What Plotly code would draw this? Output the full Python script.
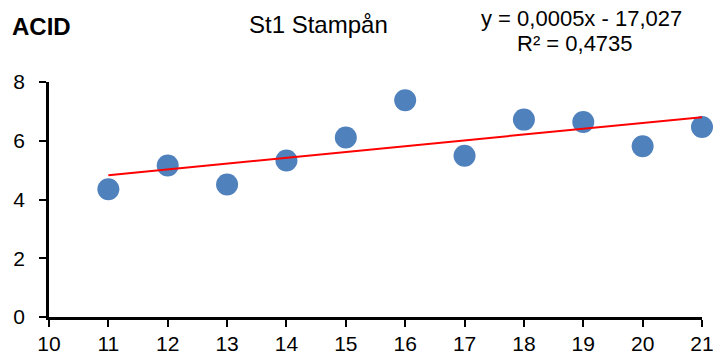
import numpy as np
import plotly.graph_objects as go

# Measurements for station St1 Stampån
years = [11, 12, 13, 14, 15, 16, 17, 18, 19, 20, 21]
acid = [4.35, 5.16, 4.51, 5.33, 6.11, 7.38, 5.49, 6.72, 6.64, 5.81, 6.47]

x_ticks = [10, 11, 12, 13, 14, 15, 16, 17, 18, 19, 20, 21]
y_ticks = [0, 2, 4, 6, 8]

chart_title = "ACID"
station = "St1 Stampån"
equation = "y = 0,0005x - 17,027"
r_squared = "R² = 0,4735"

# Linear trend line fitted through the measurements
slope, intercept = np.polyfit(years, acid, 1)
trend_x = [years[0], years[-1]]
trend_y = [slope * v + intercept for v in trend_x]

W, H = 713, 356
L, R, T, B = 49, 11, 82, 39
pw, ph = W - L - R, H - T - B


def px_x(p):
    return (p - L) / pw


def px_y(p):
    return (H - B - p) / ph


font_family = "Liberation Sans, Arial, sans-serif"

fig = go.Figure()
fig.add_trace(go.Scatter(
    x=years, y=acid, mode="markers",
    marker=dict(size=22, color="#4F81BD"),
    showlegend=False, cliponaxis=False,
))
fig.add_trace(go.Scatter(
    x=trend_x, y=trend_y, mode="lines",
    line=dict(color="#FF0000", width=2),
    showlegend=False,
))

axis_common = dict(
    showgrid=False, zeroline=False, showline=True, automargin=False,
    linecolor="black", linewidth=2.5,
    ticks="outside", ticklen=7, tickwidth=2, tickcolor="black",
    tickfont=dict(family=font_family, size=21, color="black"),
    ticklabeloverflow="allow",
)

fig.update_xaxes(range=[10, 21], tickvals=x_ticks, ticklabelstandoff=-1, **axis_common)
fig.update_yaxes(range=[0, 8], tickvals=y_ticks, ticklabelstandoff=10, **axis_common)

annotations = [
    dict(text=f"<b>{chart_title}</b>", x=px_x(10), y=px_y(26),
         xanchor="left", yanchor="middle", font=dict(size=24)),
    dict(text=station, x=px_x(318.5), y=px_y(24),
         xanchor="center", yanchor="middle", font=dict(size=24)),
    dict(text=equation, x=px_x(581), y=px_y(18),
         xanchor="center", yanchor="middle", font=dict(size=22)),
    dict(text=r_squared, x=px_x(575), y=px_y(43),
         xanchor="center", yanchor="middle", font=dict(size=22)),
]
for a in annotations:
    a.update(xref="paper", yref="paper", showarrow=False)
    a["font"].update(family=font_family, color="black")

fig.update_layout(
    width=W, height=H,
    margin=dict(l=L, r=R, t=T, b=B),
    paper_bgcolor="white", plot_bgcolor="white",
    annotations=annotations,
)

fig.write_html("out.html")
